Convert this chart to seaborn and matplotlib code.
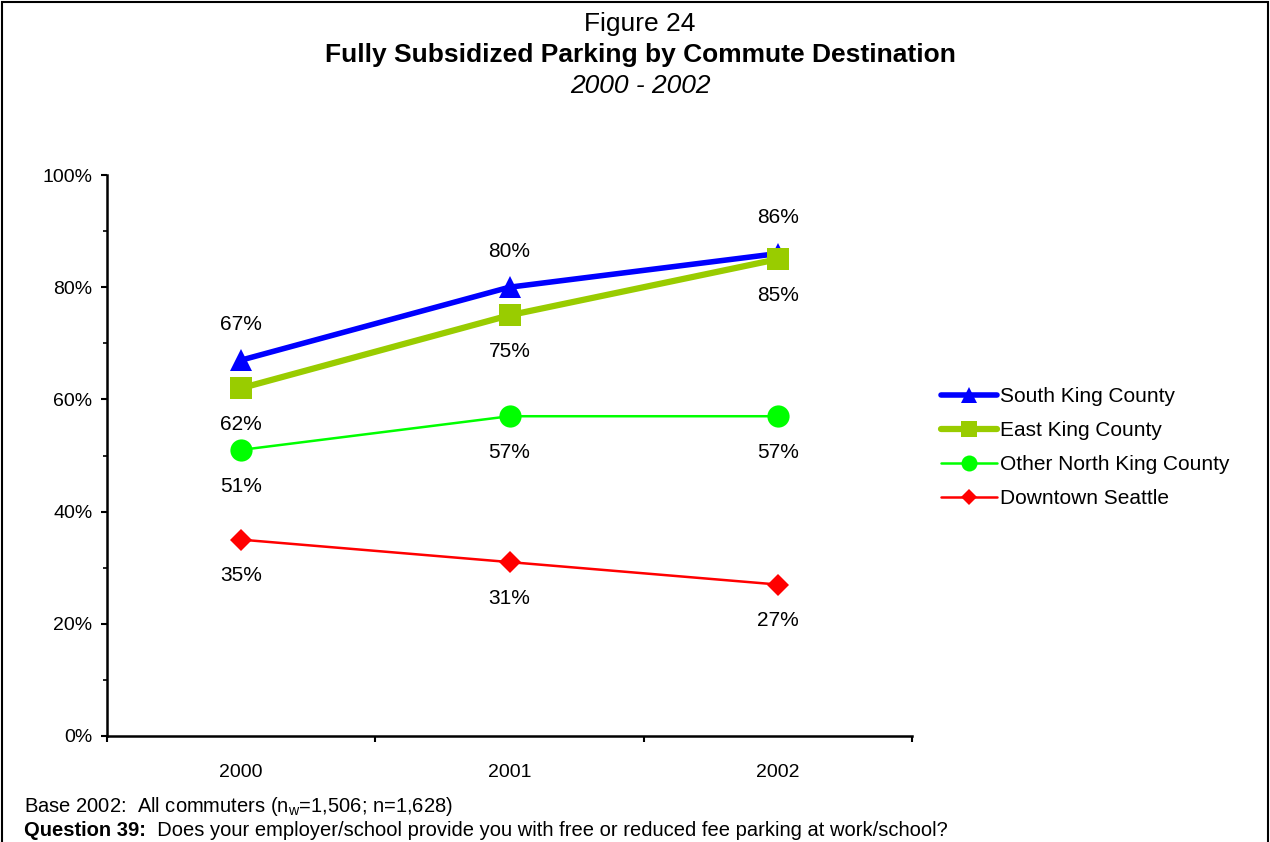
import matplotlib
matplotlib.use("Agg")
import matplotlib.pyplot as plt
import pandas as pd
import seaborn as sns
from matplotlib.lines import Line2D
from matplotlib.patches import Rectangle
from matplotlib.ticker import FixedLocator, MultipleLocator, PercentFormatter

# Data
years = ["2000", "2001", "2002"]
south_king = [67, 80, 86]
east_king = [62, 75, 85]
other_north_king = [51, 57, 57]
downtown_seattle = [35, 31, 27]

series_names = ["South King County", "East King County",
                "Other North King County", "Downtown Seattle"]
series_values = [south_king, east_king, other_north_king, downtown_seattle]

# look of each series: colour, line width, marker, marker size, label side
styles = {
    "South King County": dict(color="#0000FF", lw=4, marker="^", ms=16, side=1),
    "East King County": dict(color="#99CC00", lw=4.5, marker="s", ms=16, side=-1),
    "Other North King County": dict(color="#00FF00", lw=1.8, marker="o", ms=16, side=-1),
    "Downtown Seattle": dict(color="#FF0000", lw=1.8, marker="D", ms=11, side=-1),
}

sns.set_style("white")
plt.rcParams["font.family"] = ["Liberation Sans", "DejaVu Sans"]
plt.rcParams["text.color"] = "black"
plt.rcParams["xtick.color"] = "black"
plt.rcParams["ytick.color"] = "black"

fig = plt.figure(figsize=(12.7, 8.42), dpi=100)
ax = fig.add_axes([107 / 1270, 1 - 736 / 842, (912 - 107) / 1270, (736 - 175) / 842])

pos = list(range(len(years)))
for name, vals in zip(series_names, series_values):
    st = styles[name]
    sns.lineplot(x=pos, y=vals, ax=ax, color=st["color"], linewidth=st["lw"],
                 marker=st["marker"], markersize=st["ms"], markeredgewidth=0,
                 legend=False)
    for x, v in zip(pos, vals):
        ax.annotate(f"{v}%", (x, v), xytext=(0, 26 * st["side"]),
                    textcoords="offset points", ha="center", va="center",
                    fontsize=15, color="black")

ax.set_xlim(-0.5, len(years) - 0.5)
ax.set_ylim(0, 100)
ax.yaxis.set_major_locator(MultipleLocator(20))
ax.yaxis.set_minor_locator(MultipleLocator(10))
ax.yaxis.set_major_formatter(PercentFormatter(decimals=0))
ax.xaxis.set_major_locator(FixedLocator(pos))
ax.set_xticklabels(years)
# category boundaries get the visible ticks
ax.xaxis.set_minor_locator(FixedLocator([p - 0.5 for p in pos] + [pos[-1] + 0.5]))

for s in ["top", "right"]:
    ax.spines[s].set_visible(False)
for s in ["left", "bottom"]:
    ax.spines[s].set_color("black")
    ax.spines[s].set_linewidth(1.8)

ax.tick_params(axis="y", which="major", direction="out", length=4.5, width=1.5,
               left=True, labelsize=14, pad=6)
ax.tick_params(axis="y", which="minor", direction="out", length=3, width=1.2, left=True)
ax.tick_params(axis="x", which="major", length=0, labelsize=14, pad=20)
ax.tick_params(axis="x", which="minor", direction="out", length=4.5, width=1.5, bottom=True)
ax.set_xlabel("")
ax.set_ylabel("")

# Legend
handles = []
for name in series_names:
    st = styles[name]
    handles.append(Line2D([], [], color=st["color"], lw=st["lw"], marker=st["marker"],
                          markersize=st["ms"] * 0.72, markeredgewidth=0, label=name))
fig.legend(handles=handles, loc="center left", bbox_to_anchor=(922 / 1270, 1 - 448 / 842),
           frameon=False, fontsize=15, handlelength=2.7, handletextpad=0.15,
           labelspacing=0.72)

# Titles
fig.text(0.504, 1 - 24 / 842, "Figure 24", ha="center", va="center", fontsize=19)
fig.text(0.504, 1 - 55 / 842, "Fully Subsidized Parking by Commute Destination",
         ha="center", va="center", fontsize=19, fontweight="bold")
fig.text(0.504, 1 - 86 / 842, "2000 - 2002", ha="center", va="center",
         fontsize=19, fontstyle="italic")

# Footnotes
fig.text(24 / 1270, 1 - 807 / 842,
         r"Base 2002:  All commuters (n$_\mathregular{w}$=1,506; n=1,628)",
         ha="left", va="center", fontsize=14.5)
q = fig.text(24 / 1270, 1 - 831 / 842, "Question 39:", ha="left", va="center",
             fontsize=14.5, fontweight="bold")
fig.add_artist(plt.Annotation(
    "  Does your employer/school provide you with free or reduced fee parking at work/school?",
    xy=(1, 0.5), xycoords=q, ha="left", va="center", fontsize=14.5))

# Frame around the figure
fig.patches.append(Rectangle((0.0012, -0.05), 0.9976, 1.048, transform=fig.transFigure,
                             fill=False, edgecolor="black", lw=1.5, clip_on=False))

fig.savefig("out.png", dpi=100)
